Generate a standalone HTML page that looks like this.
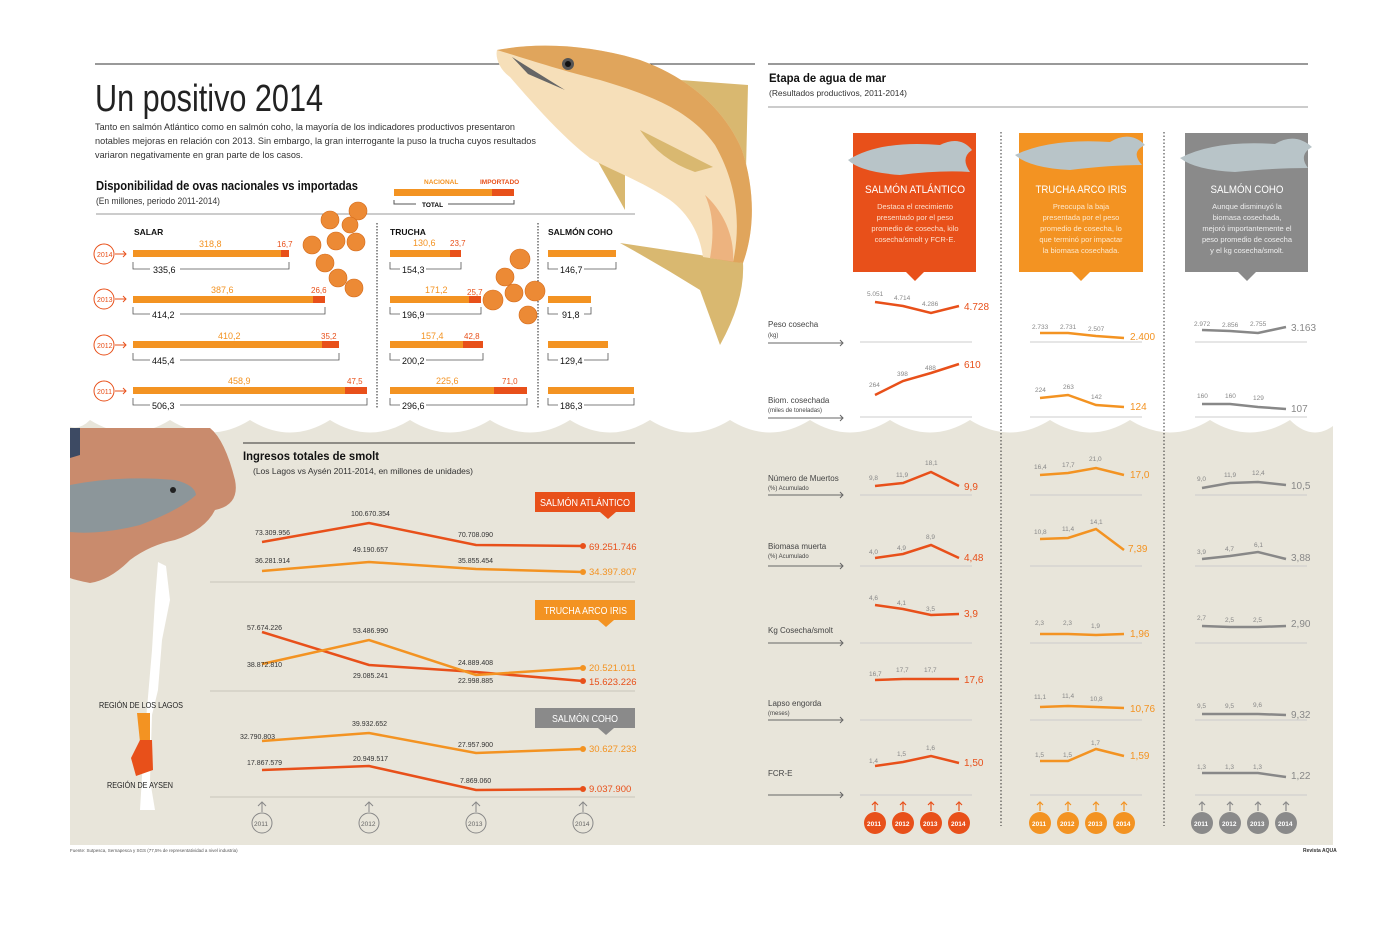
<!DOCTYPE html>
<html><head><meta charset="utf-8"><style>
html,body{margin:0;padding:0;background:#fff}
svg{display:block;font-family:"Liberation Sans",sans-serif}
</style></head><body>
<svg width="1400" height="926" viewBox="0 0 1400 926" xmlns="http://www.w3.org/2000/svg">
<path d="M70 418 L1333 418 L1333 845 L70 845 Z" fill="#e8e5da"/>
<g fill="#fff">
<path d="M60 405 L1340 405 L1340 420 Q1315 445 1290 420 Q1250 445 1210 420 Q1170 445 1130 420 Q1090 445 1050 420 Q1010 445 970 420 Q930 445 890 420 Q850 445 810 420 Q770 445 730 420 Q690 445 650 420 Q610 445 570 420 Q530 445 490 420 Q450 445 410 420 Q370 445 330 420 Q290 445 250 420 Q210 445 170 420 Q130 445 90 420 Q75 435 60 420 Z"/>
</g>
<!-- header -->
<line x1="95" y1="64" x2="755" y2="64" stroke="#333" stroke-width="1"/>
<text x="95" y="111" font-size="38" fill="#222" textLength="228" lengthAdjust="spacingAndGlyphs">Un positivo 2014</text>
<g font-size="9.5" fill="#333">
<text x="95" y="130" textLength="420" lengthAdjust="spacingAndGlyphs">Tanto en salmón Atlántico como en salmón coho, la mayoría de los indicadores productivos presentaron</text>
<text x="95" y="144" textLength="441" lengthAdjust="spacingAndGlyphs">notables mejoras en relación con 2013. Sin embargo, la gran interrogante la puso la trucha cuyos resultados</text>
<text x="95" y="158" textLength="208" lengthAdjust="spacingAndGlyphs">variaron negativamente en gran parte de los casos.</text>
</g>
<!-- fish -->
<path d="M680 80 L748 85 L746 170 Q720 120 680 80 Z" fill="#d9b870"/>
<path d="M597 160 L625 165 L625 210 Z" fill="#d9b870"/>
<path d="M700 255 L620 243 Q660 265 700 290 L720 345 Q745 300 743 263 Z" fill="#d9b870"/>
<path d="M497 50 C540 42 590 45 640 60 C690 78 725 110 742 150 C755 190 755 230 743 263 L703 257 C700 235 690 215 670 200 C640 180 610 170 590 158 C560 135 530 100 510 77 C500 70 495 58 497 50 Z" fill="#f6dfb9"/>
<path d="M497 50 C540 42 590 45 640 60 C690 78 725 110 742 150 C755 190 755 230 743 263 L733 262 C742 220 735 180 715 145 C690 110 650 95 600 80 C560 70 530 60 497 50 Z" fill="#e0a55c"/>
<path d="M733 262 L710 258 C715 230 712 210 705 195 C722 210 735 235 733 262Z" fill="#eaa066" opacity="0.7"/>
<path d="M640 130 L713 167 L695 172 Q660 160 640 130Z" fill="#d9b870"/>
<path d="M512 57 L565 90 L528 74 Z" fill="#666"/>
<circle cx="568" cy="64" r="6" fill="#555"/><circle cx="568" cy="64" r="3" fill="#111"/>
<!-- section 1 -->
<text x="96" y="190" font-size="12.5" font-weight="bold" fill="#111" textLength="262" lengthAdjust="spacingAndGlyphs">Disponibilidad de ovas nacionales vs importadas</text>
<text x="96" y="204" font-size="9" fill="#333" textLength="124" lengthAdjust="spacingAndGlyphs">(En millones, periodo 2011-2014)</text>
<line x1="96" y1="214" x2="635" y2="214" stroke="#999"/>
<text x="424" y="184" font-size="6.5" font-weight="bold" fill="#f39322">NACIONAL</text>
<text x="480" y="184" font-size="6.5" font-weight="bold" fill="#e8501a">IMPORTADO</text>
<rect x="394" y="189" width="98" height="7" fill="#f39322"/><rect x="492" y="189" width="22" height="7" fill="#e8501a"/>
<path d="M394 200 V204 H416 M448 204 H514 V200" fill="none" stroke="#555"/>
<text x="422" y="207" font-size="6.5" font-weight="bold">TOTAL</text>
<g font-size="8.5" font-weight="bold" fill="#111"><text x="134" y="235">SALAR</text><text x="390" y="235">TRUCHA</text><text x="548" y="235">SALMÓN COHO</text></g>
<g stroke="#222" stroke-dasharray="1.5,1.5"><line x1="377" y1="223" x2="377" y2="408"/><line x1="538" y1="223" x2="538" y2="408"/></g>
<g font-size="7" fill="#e8501a">
<circle cx="104" cy="254" r="10" fill="#fff" stroke="#e8501a"/><text x="97" y="257">2014</text>
<circle cx="104" cy="299" r="10" fill="#fff" stroke="#e8501a"/><text x="97" y="302">2013</text>
<circle cx="104" cy="345" r="10" fill="#fff" stroke="#e8501a"/><text x="97" y="348">2012</text>
<circle cx="104" cy="391" r="10" fill="#fff" stroke="#e8501a"/><text x="97" y="394">2011</text>
</g>
<g stroke="#e8501a" fill="none"><path d="M115 254h11m-3-3 3 3-3 3"/><path d="M115 299h11m-3-3 3 3-3 3"/><path d="M115 345h11m-3-3 3 3-3 3"/><path d="M115 391h11m-3-3 3 3-3 3"/></g>
<g>
<rect x="133" y="250" width="148" height="7" fill="#f39322"/><rect x="281" y="250" width="8" height="7" fill="#e8501a"/>
<rect x="133" y="296" width="180" height="7" fill="#f39322"/><rect x="313" y="296" width="12" height="7" fill="#e8501a"/>
<rect x="133" y="341" width="189" height="7" fill="#f39322"/><rect x="322" y="341" width="17" height="7" fill="#e8501a"/>
<rect x="133" y="387" width="212" height="7" fill="#f39322"/><rect x="345" y="387" width="22" height="7" fill="#e8501a"/>
<rect x="390" y="250" width="60" height="7" fill="#f39322"/><rect x="450" y="250" width="11" height="7" fill="#e8501a"/>
<rect x="390" y="296" width="79" height="7" fill="#f39322"/><rect x="469" y="296" width="12" height="7" fill="#e8501a"/>
<rect x="390" y="341" width="73" height="7" fill="#f39322"/><rect x="463" y="341" width="20" height="7" fill="#e8501a"/>
<rect x="390" y="387" width="104" height="7" fill="#f39322"/><rect x="494" y="387" width="33" height="7" fill="#e8501a"/>
<rect x="548" y="250" width="68" height="7" fill="#f39322"/>
<rect x="548" y="296" width="43" height="7" fill="#f39322"/>
<rect x="548" y="341" width="60" height="7" fill="#f39322"/>
<rect x="548" y="387" width="86" height="7" fill="#f39322"/>
</g>
<g fill="none" stroke="#555" stroke-width="0.8">
<path d="M133 262v7h17m30 0h109v-7"/><path d="M133 307v7h17m30 0h145v-7"/><path d="M133 353v7h17m30 0h159v-7"/><path d="M133 398v7h17m30 0h187v-7"/>
<path d="M390 262v7h10m26 0h35v-7"/><path d="M390 307v7h10m26 0h55v-7"/><path d="M390 353v7h10m26 0h57v-7"/><path d="M390 398v7h10m26 0h101v-7"/>
<path d="M548 262v7h10m26 0h32v-7"/><path d="M548 307v7h10m26 0h7v-7"/><path d="M548 353v7h10m26 0h24v-7"/><path d="M548 398v7h10m26 0h50v-7"/>
</g>
<g font-size="9" fill="#f39322"><text x="199" y="247">318,8</text><text x="211" y="293">387,6</text><text x="218" y="339">410,2</text><text x="228" y="384">458,9</text>
<text x="413" y="246">130,6</text><text x="425" y="293">171,2</text><text x="421" y="339">157,4</text><text x="436" y="384">225,6</text></g>
<g font-size="8" fill="#e8501a"><text x="277" y="247">16,7</text><text x="311" y="293">26,6</text><text x="321" y="339">35,2</text><text x="347" y="384">47,5</text>
<text x="450" y="246">23,7</text><text x="467" y="295">25,7</text><text x="464" y="339">42,8</text><text x="502" y="384">71,0</text></g>
<g font-size="9" fill="#111"><text x="153" y="273">335,6</text><text x="152" y="318">414,2</text><text x="152" y="364">445,4</text><text x="152" y="409">506,3</text>
<text x="402" y="273">154,3</text><text x="402" y="318">196,9</text><text x="402" y="364">200,2</text><text x="402" y="409">296,6</text>
<text x="560" y="273">146,7</text><text x="562" y="318">91,8</text><text x="560" y="364">129,4</text><text x="560" y="409">186,3</text></g>
<g fill="#ec8a35" stroke="#d46a1a" stroke-width="0.6">
<circle cx="358" cy="211" r="9"/><circle cx="330" cy="220" r="9"/><circle cx="350" cy="225" r="8"/><circle cx="336" cy="241" r="9"/><circle cx="356" cy="242" r="9"/><circle cx="312" cy="245" r="9"/><circle cx="325" cy="263" r="9"/><circle cx="338" cy="278" r="9"/><circle cx="354" cy="288" r="9"/>
<circle cx="520" cy="259" r="10"/><circle cx="505" cy="277" r="9"/><circle cx="493" cy="300" r="10"/><circle cx="514" cy="293" r="9"/><circle cx="535" cy="291" r="10"/><circle cx="528" cy="315" r="9"/>
</g>
<!-- hand photo -->
<path d="M70 428 L210 428 Q225 440 235 480 Q240 505 215 510 Q205 530 175 540 Q150 545 130 560 Q110 580 90 583 Q75 580 70 578 Z" fill="#c98b6d"/>
<path d="M70 428 L80 428 L80 455 L70 458Z" fill="#3d4a63"/>
<path d="M70 485 Q120 475 175 480 Q195 485 196 495 Q180 510 140 525 Q100 535 70 532 Z" fill="#8c969a"/>
<circle cx="173" cy="490" r="3" fill="#222"/>
<!-- Chile map -->
<path d="M158 562 L166 566 L170 600 L162 640 L158 690 L152 715 L150 780 L155 810 L140 810 L143 760 L146 720 L152 650 L155 600 Z" fill="#fff"/>
<path d="M137 713 L150 713 L150 740 L140 742Z" fill="#f39322"/>
<path d="M140 740 L152 740 L153 770 L136 776 L131 758Z" fill="#e8501a"/>
<text x="99" y="708" font-size="8.5" fill="#222" textLength="84" lengthAdjust="spacingAndGlyphs">REGIÓN DE LOS LAGOS</text>
<text x="107" y="788" font-size="8.5" fill="#222" textLength="66" lengthAdjust="spacingAndGlyphs">REGIÓN DE AYSEN</text>
<!-- smolt chart -->
<line x1="243" y1="443" x2="635" y2="443" stroke="#333"/>
<text x="243" y="460" font-size="12" font-weight="bold" fill="#111" textLength="136" lengthAdjust="spacingAndGlyphs">Ingresos totales de smolt</text>
<text x="253" y="474" font-size="8.5" fill="#333" textLength="220" lengthAdjust="spacingAndGlyphs">(Los Lagos vs Aysén 2011-2014, en millones de unidades)</text>
<g fill="#fff" font-size="10">
<rect x="535" y="492" width="100" height="20" fill="#e8501a"/><path d="M600 512 l8 7 8-7z" fill="#e8501a"/><text x="540" y="506" textLength="90" lengthAdjust="spacingAndGlyphs">SALMÓN ATLÁNTICO</text>
<rect x="535" y="600" width="100" height="20" fill="#f39322"/><path d="M598 620 l8 7 8-7z" fill="#f39322"/><text x="544" y="614" textLength="83" lengthAdjust="spacingAndGlyphs">TRUCHA ARCO IRIS</text>
<rect x="535" y="708" width="100" height="20" fill="#8a8a8a"/><path d="M598 728 l8 7 8-7z" fill="#8a8a8a"/><text x="552" y="722" textLength="66" lengthAdjust="spacingAndGlyphs">SALMÓN COHO</text>
</g>
<g stroke="#c8c5ba"><line x1="210" y1="582" x2="635" y2="582"/><line x1="210" y1="691" x2="635" y2="691"/><line x1="210" y1="797" x2="635" y2="797"/></g>
<g fill="none" stroke-width="2.5">
<polyline points="262,542 369,523 476,545 583,546" stroke="#e8501a"/>
<polyline points="262,571 369,562 476,569 583,572" stroke="#f39322"/>
<polyline points="262,632 369,665 476,672 583,681" stroke="#e8501a"/>
<polyline points="262,664 369,640 476,675 583,668" stroke="#f39322"/>
<polyline points="262,741 369,733 476,753 583,749" stroke="#f39322"/>
<polyline points="262,770 369,766 476,790 583,789" stroke="#e8501a"/>
</g>
<g fill="#e8501a"><circle cx="583" cy="546" r="3"/><circle cx="583" cy="681" r="3"/><circle cx="583" cy="789" r="3"/></g>
<g fill="#f39322"><circle cx="583" cy="572" r="3"/><circle cx="583" cy="668" r="3"/><circle cx="583" cy="749" r="3"/></g>
<g font-size="7" fill="#333">
<text x="255" y="535">73.309.956</text><text x="351" y="516">100.670.354</text><text x="458" y="537">70.708.090</text>
<text x="255" y="563">36.281.914</text><text x="353" y="552">49.190.657</text><text x="458" y="563">35.855.454</text>
<text x="247" y="630">57.674.226</text><text x="353" y="633">53.486.990</text><text x="458" y="665">24.889.408</text>
<text x="247" y="667">38.872.810</text><text x="353" y="678">29.085.241</text><text x="458" y="683">22.998.885</text>
<text x="240" y="739">32.790.803</text><text x="352" y="726">39.932.652</text><text x="458" y="747">27.957.900</text>
<text x="247" y="765">17.867.579</text><text x="353" y="761">20.949.517</text><text x="460" y="783">7.869.060</text>
</g>
<g font-size="9.5"><text x="589" y="550" fill="#e8501a">69.251.746</text><text x="589" y="575" fill="#f39322">34.397.807</text>
<text x="589" y="671" fill="#f39322">20.521.011</text><text x="589" y="685" fill="#e8501a">15.623.226</text>
<text x="589" y="752" fill="#f39322">30.627.233</text><text x="589" y="792" fill="#e8501a">9.037.900</text></g>
<g fill="#e8e5da" stroke="#888" font-size="6.5">
<circle cx="262" cy="823" r="10"/><circle cx="369" cy="823" r="10"/><circle cx="476" cy="823" r="10"/><circle cx="583" cy="823" r="10"/></g>
<g fill="#666" font-size="6.5"><text x="254" y="826">2011</text><text x="361" y="826">2012</text><text x="468" y="826">2013</text><text x="575" y="826">2014</text></g>
<g stroke="#888" fill="none"><path d="M262 812v-10m-4 4 4-4 4 4"/><path d="M369 812v-10m-4 4 4-4 4 4"/><path d="M476 812v-10m-4 4 4-4 4 4"/><path d="M583 812v-10m-4 4 4-4 4 4"/></g>
<!-- right section -->
<line x1="768" y1="64" x2="1308" y2="64" stroke="#333"/>
<text x="769" y="82" font-size="12" font-weight="bold" fill="#111" textLength="117" lengthAdjust="spacingAndGlyphs">Etapa de agua de mar</text>
<text x="769" y="96" font-size="8.5" fill="#333" textLength="138" lengthAdjust="spacingAndGlyphs">(Resultados productivos, 2011-2014)</text>
<line x1="768" y1="107" x2="1308" y2="107" stroke="#999"/>
<g stroke="#333" stroke-dasharray="1.5,2"><line x1="1001" y1="132" x2="1001" y2="826"/><line x1="1164" y1="132" x2="1164" y2="826"/></g>
<rect x="853" y="133" width="123" height="139" fill="#e8501a"/><path d="M906 272 l9 9 9-9z" fill="#e8501a"/>
<rect x="1019" y="133" width="124" height="139" fill="#f39322"/><path d="M1072 272 l9 9 9-9z" fill="#f39322"/>
<rect x="1185" y="133" width="123" height="139" fill="#8a8a8a"/><path d="M1238 272 l9 9 9-9z" fill="#8a8a8a"/>
<g fill="#b8c4c8"><path d="M848 160 Q880 140 940 145 Q960 135 972 150 Q960 158 970 172 Q940 170 900 175 Q860 172 848 160Z"/><path d="M1015 155 Q1050 138 1110 142 Q1130 130 1145 145 Q1130 152 1142 165 Q1110 165 1070 170 Q1030 168 1015 155Z"/><path d="M1180 158 Q1215 140 1275 144 Q1295 132 1312 147 Q1298 155 1308 168 Q1275 168 1235 172 Q1195 170 1180 158Z"/></g>
<g fill="#fff" text-anchor="middle">
<text x="915" y="193" font-size="11" textLength="100" lengthAdjust="spacingAndGlyphs">SALMÓN ATLÁNTICO</text><text x="1081" y="193" font-size="11" textLength="91" lengthAdjust="spacingAndGlyphs">TRUCHA ARCO IRIS</text><text x="1247" y="193" font-size="11" textLength="73" lengthAdjust="spacingAndGlyphs">SALMÓN COHO</text>
<g font-size="7.5" fill="#fde0cc"><text x="915" y="209">Destaca el crecimiento</text><text x="915" y="220">presentado por el peso</text><text x="915" y="231">promedio de cosecha, kilo</text><text x="915" y="242">cosecha/smolt y FCR-E.</text></g>
<g font-size="7.5" fill="#fde8cc"><text x="1081" y="209">Preocupa la baja</text><text x="1081" y="220">presentada por el peso</text><text x="1081" y="231">promedio de cosecha, lo</text><text x="1081" y="242">que terminó por impactar</text><text x="1081" y="253">la biomasa cosechada.</text></g>
<g font-size="7.5" fill="#eee"><text x="1247" y="209">Aunque disminuyó la</text><text x="1247" y="220">biomasa cosechada,</text><text x="1247" y="231">mejoró importantemente el</text><text x="1247" y="242">peso promedio de cosecha</text><text x="1247" y="253">y el kg cosecha/smolt.</text></g>
</g>
<g font-size="8" fill="#444">
<text x="768" y="327">Peso cosecha</text><text x="768" y="337" font-size="6">(kg)</text>
<text x="768" y="403">Biom. cosechada</text><text x="768" y="412" font-size="6">(miles de toneladas)</text>
<text x="768" y="481">Número de Muertos</text><text x="768" y="490" font-size="6">(%) Acumulado</text>
<text x="768" y="549">Biomasa muerta</text><text x="768" y="558" font-size="6">(%) Acumulado</text>
<text x="768" y="633">Kg Cosecha/smolt</text>
<text x="768" y="706">Lapso engorda</text><text x="768" y="715" font-size="6">(meses)</text>
<text x="768" y="776">FCR-E</text>
</g>
<g stroke="#666" fill="none"><path d="M768 343h75m-3-3 3 3-3 3"/><path d="M768 418h75m-3-3 3 3-3 3"/><path d="M768 495h75m-3-3 3 3-3 3"/><path d="M768 566h75m-3-3 3 3-3 3"/><path d="M768 643h75m-3-3 3 3-3 3"/><path d="M768 720h75m-3-3 3 3-3 3"/><path d="M768 795h75m-3-3 3 3-3 3"/></g>
<g stroke="#ccc">
<path d="M860 342h112M1030 342h112M1195 342h112M860 417h112M1030 417h112M1195 417h112M860 495h112M1030 495h112M1195 495h112M860 566h112M1030 566h112M1195 566h112M860 643h112M1030 643h112M1195 643h112M860 720h112M1030 720h112M1195 720h112M860 795h112M1030 795h112M1195 795h112"/>
</g>
<g fill="none" stroke-width="2.5">
<g stroke="#e8501a">
<polyline points="875,302 903,306 931,313 959,306"/><polyline points="875,395 903,381 931,373 959,364"/><polyline points="875,486 903,483 931,472 959,486"/><polyline points="875,558 903,554 931,545 959,558"/><polyline points="875,605 903,609 931,615 959,614"/><polyline points="875,680 903,679 931,679 959,679"/><polyline points="875,766 903,762 931,756 959,763"/>
</g>
<g stroke="#f39322">
<polyline points="1040,333 1068,333 1096,336 1124,338"/><polyline points="1040,398 1068,395 1096,405 1124,407"/><polyline points="1040,475 1068,473 1096,468 1124,475"/><polyline points="1040,539 1068,538 1096,529 1124,550"/><polyline points="1040,634 1068,634 1096,635 1124,634"/><polyline points="1040,707 1068,706 1096,707 1124,708"/><polyline points="1040,761 1068,761 1096,749 1124,756"/>
</g>
<g stroke="#888">
<polyline points="1202,330 1230,331 1258,333 1286,327"/><polyline points="1202,404 1230,404 1258,407 1286,409"/><polyline points="1202,488 1230,483 1258,482 1286,485"/><polyline points="1202,559 1230,556 1258,552 1286,559"/><polyline points="1202,626 1230,627 1258,627 1286,626"/><polyline points="1202,714 1230,714 1258,714 1286,715"/><polyline points="1202,773 1230,773 1258,773 1286,777"/>
</g>
</g>
<g font-size="6.5" fill="#888">
<text x="867" y="296">5.051</text><text x="894" y="300">4.714</text><text x="922" y="306">4.286</text>
<text x="869" y="387">264</text><text x="897" y="376">398</text><text x="925" y="370">488</text>
<text x="869" y="480">9,8</text><text x="896" y="477">11,9</text><text x="925" y="465">18,1</text>
<text x="869" y="554">4,0</text><text x="897" y="550">4,9</text><text x="926" y="539">8,9</text>
<text x="869" y="600">4,6</text><text x="897" y="605">4,1</text><text x="926" y="611">3,5</text>
<text x="869" y="676">16,7</text><text x="896" y="672">17,7</text><text x="924" y="672">17,7</text>
<text x="869" y="763">1,4</text><text x="897" y="756">1,5</text><text x="926" y="750">1,6</text>
<text x="1032" y="329">2.733</text><text x="1060" y="329">2.731</text><text x="1088" y="331">2.507</text>
<text x="1035" y="392">224</text><text x="1063" y="389">263</text><text x="1091" y="399">142</text>
<text x="1034" y="469">16,4</text><text x="1062" y="467">17,7</text><text x="1089" y="461">21,0</text>
<text x="1034" y="534">10,8</text><text x="1062" y="531">11,4</text><text x="1090" y="524">14,1</text>
<text x="1035" y="625">2,3</text><text x="1063" y="625">2,3</text><text x="1091" y="628">1,9</text>
<text x="1034" y="699">11,1</text><text x="1062" y="698">11,4</text><text x="1090" y="701">10,8</text>
<text x="1035" y="757">1,5</text><text x="1063" y="757">1,5</text><text x="1091" y="745">1,7</text>
<text x="1194" y="326">2.972</text><text x="1222" y="327">2.856</text><text x="1250" y="326">2.755</text>
<text x="1197" y="398">160</text><text x="1225" y="398">160</text><text x="1253" y="400">129</text>
<text x="1197" y="481">9,0</text><text x="1224" y="477">11,9</text><text x="1252" y="475">12,4</text>
<text x="1197" y="554">3,9</text><text x="1225" y="551">4,7</text><text x="1254" y="547">6,1</text>
<text x="1197" y="620">2,7</text><text x="1225" y="622">2,5</text><text x="1253" y="622">2,5</text>
<text x="1197" y="708">9,5</text><text x="1225" y="708">9,5</text><text x="1253" y="707">9,6</text>
<text x="1197" y="769">1,3</text><text x="1225" y="769">1,3</text><text x="1253" y="769">1,3</text>
</g>
<g font-size="10" fill="#e8501a"><text x="964" y="310">4.728</text><text x="964" y="368">610</text><text x="964" y="490">9,9</text><text x="964" y="561">4,48</text><text x="964" y="617">3,9</text><text x="964" y="683">17,6</text><text x="964" y="766">1,50</text></g>
<g font-size="10" fill="#f39322"><text x="1130" y="340">2.400</text><text x="1130" y="410">124</text><text x="1130" y="478">17,0</text><text x="1128" y="552">7,39</text><text x="1130" y="637">1,96</text><text x="1130" y="712">10,76</text><text x="1130" y="759">1,59</text></g>
<g font-size="10" fill="#888"><text x="1291" y="331">3.163</text><text x="1291" y="412">107</text><text x="1291" y="489">10,5</text><text x="1291" y="561">3,88</text><text x="1291" y="627">2,90</text><text x="1291" y="718">9,32</text><text x="1291" y="779">1,22</text></g>
<g font-size="6.5" fill="#fff" font-weight="bold">
<g fill="#e8501a"><circle cx="875" cy="823" r="11"/><circle cx="903" cy="823" r="11"/><circle cx="931" cy="823" r="11"/><circle cx="959" cy="823" r="11"/></g>
<g fill="#f39322"><circle cx="1040" cy="823" r="11"/><circle cx="1068" cy="823" r="11"/><circle cx="1096" cy="823" r="11"/><circle cx="1124" cy="823" r="11"/></g>
<g fill="#8a8a8a"><circle cx="1202" cy="823" r="11"/><circle cx="1230" cy="823" r="11"/><circle cx="1258" cy="823" r="11"/><circle cx="1286" cy="823" r="11"/></g>
<text x="867" y="826">2011</text><text x="895" y="826">2012</text><text x="923" y="826">2013</text><text x="951" y="826">2014</text>
<text x="1032" y="826">2011</text><text x="1060" y="826">2012</text><text x="1088" y="826">2013</text><text x="1116" y="826">2014</text>
<text x="1194" y="826">2011</text><text x="1222" y="826">2012</text><text x="1250" y="826">2013</text><text x="1278" y="826">2014</text>
</g>
<g fill="none" stroke-width="1.2">
<g stroke="#e8501a"><path d="M875 811v-9m-3 3 3-3 3 3M903 811v-9m-3 3 3-3 3 3M931 811v-9m-3 3 3-3 3 3M959 811v-9m-3 3 3-3 3 3"/></g>
<g stroke="#f39322"><path d="M1040 811v-9m-3 3 3-3 3 3M1068 811v-9m-3 3 3-3 3 3M1096 811v-9m-3 3 3-3 3 3M1124 811v-9m-3 3 3-3 3 3"/></g>
<g stroke="#8a8a8a"><path d="M1202 811v-9m-3 3 3-3 3 3M1230 811v-9m-3 3 3-3 3 3M1258 811v-9m-3 3 3-3 3 3M1286 811v-9m-3 3 3-3 3 3"/></g>
</g>
<text x="70" y="852" font-size="4.5" fill="#555">Fuente: Sutpesca, Sernapesca y SGS (77,5% de representatividad a nivel industria)</text>
<text x="1303" y="852" font-size="5" font-weight="bold" fill="#333">Revista AQUA</text>
</svg>
</body></html>
